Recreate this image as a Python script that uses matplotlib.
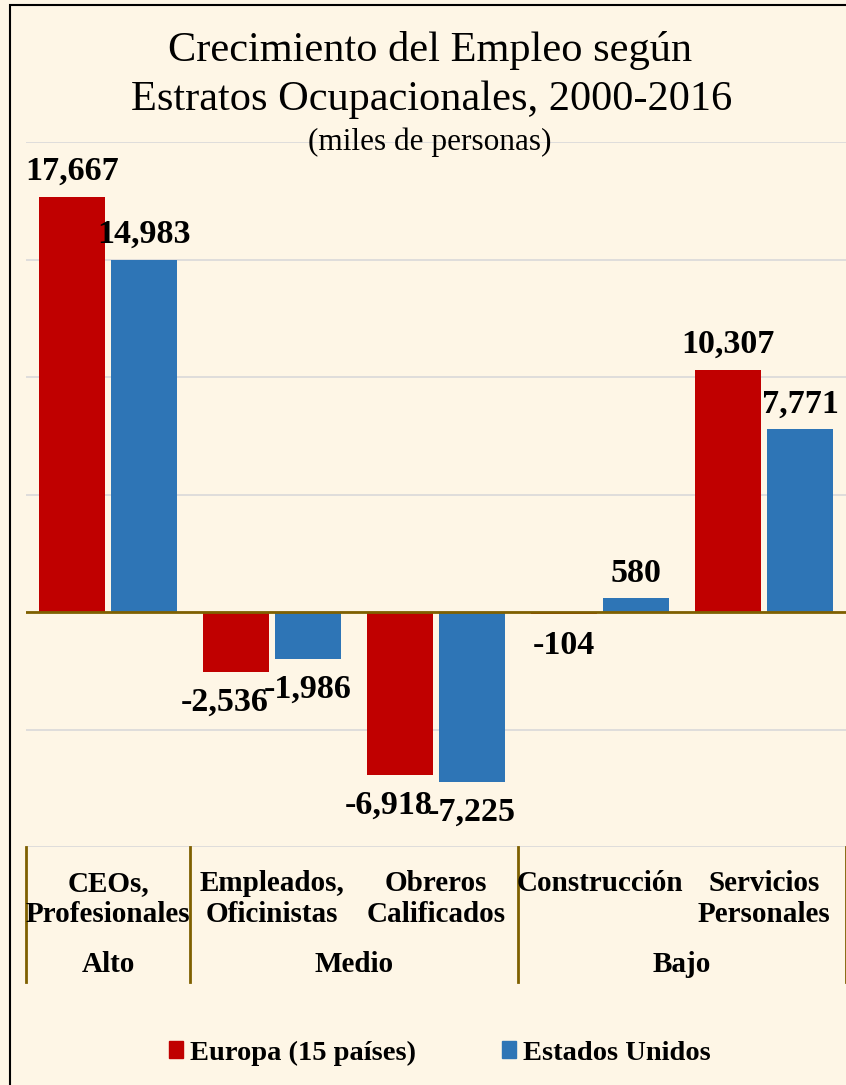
import matplotlib.pyplot as plt
import matplotlib.transforms as mtransforms
from matplotlib.patches import Rectangle
import numpy as np

# data (miles de personas)
categories = ["CEOs,\nProfesionales", "Empleados,\nOficinistas", "Obreros\nCalificados",
              "Construcción", "Servicios\nPersonales"]
groups = ["Alto", "Medio", "Bajo"]
group_spans = [(0, 0), (1, 2), (3, 4)]
europa = [17667, -2536, -6918, -104, 10307]
eeuu = [14983, -1986, -7225, 580, 7771]
europa_lbl = ["17,667", "-2,536", "-6,918", "-104", "10,307"]
eeuu_lbl = ["14,983", "-1,986", "-7,225", "580", "7,771"]

RED = "#C00000"
BLUE = "#2E75B6"
OLIVE = "#7F6000"
BG = "#FEF6E6"
W, H = 846, 1085

plt.rcParams['font.family'] = ['Liberation Serif', 'DejaVu Serif']

fig = plt.figure(figsize=(W / 100, H / 100), dpi=100, facecolor=BG)
# border only shows on left and top
fig.patches.append(Rectangle((10 / W, -0.1), 1.2, 1.1 - 5 / H, transform=fig.transFigure,
                             facecolor=BG, edgecolor="black", linewidth=1.5, zorder=-1))

ax = fig.add_axes([26 / W, 1 - 847 / H, 820 / W, 705 / H])
ax.set_facecolor("none")
x = np.arange(len(categories))
bw = 0.40
off = 0.22
ax.bar(x - off, europa, bw, color=RED, zorder=3)
ax.bar(x + off, eeuu, bw, color=BLUE, zorder=3)
ax.set_xlim(-0.5, 4.5)
ax.set_ylim(-10000, 20000)
ax.set_yticks(np.arange(-10000, 20001, 5000))
ax.yaxis.grid(True, color="#D9D9D9", linewidth=1.2, zorder=0)
ax.tick_params(left=False, labelleft=False, bottom=False, labelbottom=False)
for s in ax.spines.values():
    s.set_visible(False)
ax.axhline(0, color=OLIVE, linewidth=2, zorder=4)

lbl_font = dict(fontsize=24.5, fontweight="bold", ha="center")
for i in range(len(categories)):
    for k, (xv, v, t) in enumerate([(x[i] - off, europa[i], europa_lbl[i]),
                                    (x[i] + off, eeuu[i], eeuu_lbl[i])]):
        if v >= 0:
            ax.annotate(t, (xv, v), xytext=(0, 7), textcoords="offset points", va="bottom", **lbl_font)
        else:
            # red labels of the two close negative pairs are nudged left, as in the original
            dx = -8 if (k == 0 and v < -1000) else 0
            ax.annotate(t, (xv, v), xytext=(dx, -11), textcoords="offset points", va="top", **lbl_font)

# category axis with two levels
tr = mtransforms.blended_transform_factory(ax.transData, fig.transFigure)
for b in [-0.5, 0.5, 2.5, 4.5]:
    ax.plot([b, b], [1 - 847 / H, 1 - 982 / H], transform=tr, color=OLIVE,
            linewidth=2, clip_on=False)
for i, c in enumerate(categories):
    ax.text(x[i], 1 - 870 / H, c, transform=tr, ha="center", va="top",
            fontsize=21, fontweight="bold", linespacing=1.2)
for g, (a, b) in zip(groups, group_spans):
    ax.text((a + b) / 2, 1 - 965 / H, g, transform=tr, ha="center", va="center",
            fontsize=21, fontweight="bold")

# title
fig.text(430 / W, 1 - 50 / H, "Crecimiento del Empleo según", ha="center", va="center", fontsize=30.5)
fig.text(432 / W, 1 - 100 / H, "Estratos Ocupacionales, 2000-2016", ha="center", va="center", fontsize=30.5)
fig.text(430 / W, 1 - 142 / H, "(miles de personas)", ha="center", va="center", fontsize=22.5)

handles = [Rectangle((0, 0), 1, 1, color=RED), Rectangle((0, 0), 1, 1, color=BLUE)]
fig.legend(handles, ["Europa (15 países)", "Estados Unidos"], loc="center",
           bbox_to_anchor=(440 / W, 1 - 1053 / H), ncol=2, frameon=False,
           prop=dict(size=20.5, weight="bold"), handlelength=0.5, handleheight=0.5,
           handletextpad=0.25, columnspacing=3.0)

fig.savefig("out.png", dpi=100, facecolor=BG)
